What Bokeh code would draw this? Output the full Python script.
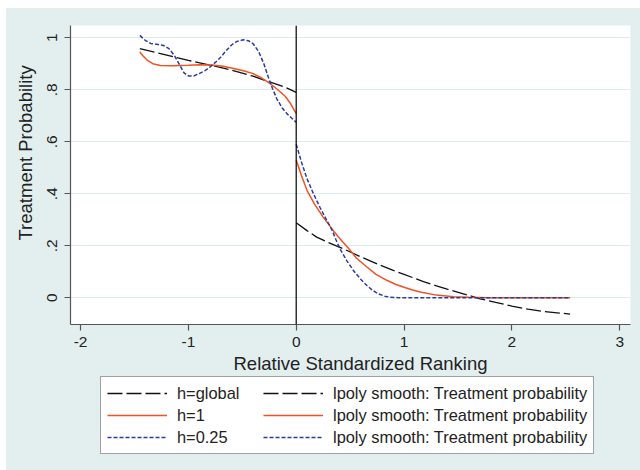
from bokeh.plotting import figure
from bokeh.layouts import column
from bokeh.models import Span, Legend, LegendItem, FixedTicker, Title, Range1d
from bokeh.embed import file_html
from bokeh.resources import INLINE

# ---------------- data ----------------
# h = global bandwidth
glob_left_x = [-1.45, -1.2, -1.0, -0.8, -0.6, -0.4, -0.24, -0.1, 0.0]
glob_left_y = [0.958, 0.933, 0.913, 0.895, 0.875, 0.852, 0.829, 0.809, 0.790]
glob_right_x = [0.0, 0.1, 0.19, 0.3, 0.454, 0.6, 0.75, 0.9, 1.0, 1.18, 1.3, 1.4, 1.55, 1.705,
                1.85, 2.0, 2.15, 2.3, 2.42, 2.54]
glob_right_y = [0.288, 0.258, 0.233, 0.212, 0.185, 0.157, 0.130, 0.105, 0.090, 0.062, 0.046,
                0.033, 0.015, -0.004, -0.018, -0.032, -0.044, -0.053, -0.058, -0.063]

# h = 1
h1_left_x = [-1.45, -1.42, -1.38, -1.33, -1.26, -1.15, -1.0, -0.89, -0.78, -0.68, -0.58, -0.48,
             -0.4, -0.32, -0.24, -0.17, -0.1, -0.05, 0.0]
h1_left_y = [0.945, 0.930, 0.913, 0.900, 0.893, 0.892, 0.894, 0.896, 0.895, 0.890, 0.882, 0.872,
             0.862, 0.845, 0.823, 0.800, 0.774, 0.745, 0.708]
h1_right_x = [0.0, 0.05, 0.1, 0.17, 0.25, 0.35, 0.42, 0.485, 0.56, 0.65, 0.74, 0.84, 0.92, 1.0,
              1.08, 1.15, 1.3, 1.46, 1.6, 1.8, 2.54]
h1_right_y = [0.530, 0.468, 0.413, 0.360, 0.310, 0.255, 0.220, 0.190, 0.152, 0.120, 0.090, 0.067,
              0.052, 0.040, 0.030, 0.022, 0.010, 0.004, 0.002, 0.0, 0.0]

# h = 0.25
h025_left_x = [-1.45, -1.4, -1.35, -1.28, -1.23, -1.18, -1.13, -1.08, -1.04, -1.0, -0.95, -0.9,
               -0.85, -0.8, -0.75, -0.7, -0.65, -0.6, -0.55, -0.49, -0.44, -0.4, -0.35, -0.3,
               -0.26, -0.22, -0.18, -0.13, -0.086, -0.04, 0.0]
h025_left_y = [1.009, 0.990, 0.978, 0.974, 0.970, 0.958, 0.932, 0.895, 0.865, 0.853, 0.853, 0.862,
               0.872, 0.887, 0.905, 0.925, 0.950, 0.972, 0.986, 0.992, 0.988, 0.977, 0.948, 0.900,
               0.850, 0.805, 0.765, 0.730, 0.708, 0.690, 0.675]
h025_right_x = [0.0, 0.05, 0.1, 0.16, 0.22, 0.28, 0.33, 0.37, 0.41, 0.47, 0.53, 0.6, 0.655, 0.71,
                0.76, 0.82, 0.87, 0.95, 2.54]
h025_right_y = [0.590, 0.520, 0.458, 0.400, 0.348, 0.300, 0.262, 0.222, 0.185, 0.142, 0.105, 0.070,
                0.047, 0.028, 0.015, 0.006, 0.002, 0.0, 0.0]

x_ticks = [-2, -1, 0, 1, 2, 3]
x_tick_labels = ["-2", "-1", "0", "1", "2", "3"]
y_ticks = [0, 0.2, 0.4, 0.6, 0.8, 1]
y_tick_labels = ["0", ".2", ".4", ".6", ".8", "1"]

left_labels = ["h=global", "h=1", "h=0.25"]
right_label = "lpoly smooth: Treatment probability"
x_title = "Relative Standardized Ranking"
y_title = "Treatment Probability"

# ---------------- styling ----------------
BG = "#e3efef"
GRID = "#dcebeb"
AXIS = "#555555"
TEXT = "#222222"
FONT = "Liberation Sans"
colors = ["#111111", "#f05224", "#2b3aa0"]
dashes = ["15 4", "solid", "4 2"]
widths = [1.3, 1.5, 1.5]

W = 634
p = figure(width=W, height=366, output_backend="svg", toolbar_location=None,
           x_range=(-2.093, 3.10), y_range=(-0.103, 1.047),
           min_border_left=64, min_border_right=10, min_border_top=17,
           min_border_bottom=50)
p.border_fill_color = BG
p.background_fill_color = "white"
p.outline_line_color = None

# grid
p.xgrid.grid_line_color = None
p.ygrid.grid_line_color = GRID
p.ygrid.grid_line_width = 1.2

# axes
for ax in (p.xaxis[0], p.yaxis[0]):
    ax.axis_line_color = AXIS
    ax.axis_line_width = 1.2
    ax.major_tick_line_color = AXIS
    ax.major_tick_line_width = 1.2
    ax.major_tick_out = 6
    ax.major_tick_in = 0
    ax.minor_tick_line_color = None
    ax.major_label_text_font = FONT
    ax.major_label_text_font_size = "15.5px"
    ax.major_label_text_color = TEXT

p.xaxis.ticker = FixedTicker(ticks=x_ticks)
p.xaxis.major_label_overrides = {t: l for t, l in zip(x_ticks, x_tick_labels)}
p.yaxis.ticker = FixedTicker(ticks=y_ticks)
p.yaxis.major_label_overrides = {t: l for t, l in zip(y_ticks, y_tick_labels)}
p.xaxis.major_label_standoff = 6
p.yaxis.major_label_standoff = 7
p.yaxis.major_label_orientation = "vertical"
# blank spacer label keeps the y title at the original distance from the axis
p.yaxis.axis_label = " "
p.yaxis.axis_label_text_font_size = "1px"
p.yaxis.axis_label_standoff = 4

# cutoff line
p.add_layout(Span(location=0, dimension="height", line_color="black", line_width=1.2))

series = [
    (glob_left_x, glob_left_y, glob_right_x, glob_right_y),
    (h1_left_x, h1_left_y, h1_right_x, h1_right_y),
    (h025_left_x, h025_left_y, h025_right_x, h025_right_y),
]
for i, (lx, ly, rx, ry) in enumerate(series):
    p.line(lx, ly, line_color=colors[i], line_dash=dashes[i], line_width=widths[i])
    p.line(rx, ry, line_color=colors[i], line_dash=dashes[i], line_width=widths[i])

# axis titles (side titles so they can be offset like the original)
p.add_layout(Title(text=x_title, align="left", offset=163, standoff=2,
                   text_font=FONT, text_font_size="18.5px", text_font_style="normal",
                   text_color=TEXT), "below")
p.add_layout(Title(text=y_title, align="left", offset=84, standoff=2,
                   text_font=FONT, text_font_size="18.5px", text_font_style="normal",
                   text_color=TEXT), "left")

# ---------------- legend strip ----------------
# the same series are drawn here (outside the visible range) only to key the legend
q = figure(width=W, height=96, output_backend="svg", toolbar_location=None,
           x_axis_type=None, y_axis_type=None,
           x_range=Range1d(10, 11), y_range=Range1d(10, 11),
           min_border_left=0, min_border_right=0, min_border_top=0, min_border_bottom=0)
q.border_fill_color = BG
q.background_fill_color = BG
q.outline_line_color = None
q.grid.grid_line_color = None

left_items = []
right_items = []
for i, (lx, ly, rx, ry) in enumerate(series):
    rl = q.line(lx, ly, line_color=colors[i], line_dash=dashes[i], line_width=widths[i])
    rr = q.line(rx, ry, line_color=colors[i], line_dash=dashes[i], line_width=widths[i])
    left_items.append(LegendItem(label=left_labels[i], renderers=[rl]))
    right_items.append(LegendItem(label=right_label, renderers=[rr]))

legend = Legend(items=left_items + right_items, location=(30, 16), nrows=3, ncols=2,
                orientation="vertical",
                glyph_width=60, glyph_height=20, label_height=20, label_width=84,
                label_standoff=10, spacing=2, padding=6, margin=0,
                label_text_font=FONT, label_text_font_size="16.4px", label_text_color=TEXT,
                border_line_color="#444444", border_line_width=1.2,
                background_fill_color="white", background_fill_alpha=1.0)
q.add_layout(legend, "center")

layout = column(p, q, spacing=0)
layout.margin = (8, 0, 0, 6)
layout.styles = {"background-color": BG}

open("out.html", "w").write(file_html(layout, INLINE))
